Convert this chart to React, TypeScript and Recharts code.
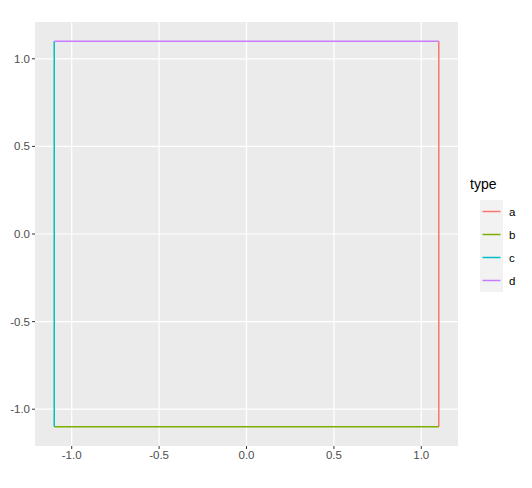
import { LineChart, Line, XAxis, YAxis, CartesianGrid } from 'recharts'

const types = ['a', 'b', 'c', 'd']
const colors = ['#F8766D', '#7CAE00', '#00BFC4', '#C77CFF']

// each side of the square, two end points
const sideA = [{ x: 1.1, y: -1.1 }, { x: 1.1, y: 1.1 }]
const sideB = [{ x: -1.1, y: -1.1 }, { x: 1.1, y: -1.1 }]
const sideC = [{ x: -1.1, y: -1.1 }, { x: -1.1, y: 1.1 }]
const sideD = [{ x: -1.1, y: 1.1 }, { x: 1.1, y: 1.1 }]
const sides = [sideA, sideB, sideC, sideD]

const ticks = [-1, -0.5, 0, 0.5, 1]
const domain: [number, number] = [-1.21, 1.21]

const font = '"Liberation Sans", Arial, sans-serif'
const tickStyle = { fill: '#4D4D4D', fontSize: 11.5, fontFamily: font }

export default function App() {
  return (
    <div style={{ position: 'absolute', left: 0, top: 0, width: 532, height: 488, background: '#fff' }}>
      <LineChart width={532} height={488} margin={{ top: 22, right: 74, bottom: 0, left: 0 }}>
        <CartesianGrid
          stroke="#fff"
          strokeWidth={1.2}
          fill="#EBEBEB"
          fillOpacity={1}
          horizontalValues={ticks}
          verticalValues={ticks}
        />
        <XAxis
          type="number"
          dataKey="x"
          domain={domain}
          ticks={ticks}
          tickFormatter={(v: number) => v.toFixed(1)}
          axisLine={false}
          tickLine={{ stroke: '#333' }}
          tickSize={3}
          tickMargin={2}
          tick={tickStyle}
          height={42}
          allowDuplicatedCategory={false}
        />
        <YAxis
          type="number"
          dataKey="y"
          domain={domain}
          ticks={ticks}
          tickFormatter={(v: number) => v.toFixed(1)}
          axisLine={false}
          tickLine={{ stroke: '#333' }}
          tickSize={3}
          tickMargin={2}
          tick={tickStyle}
          width={35}
        />
        {sides.map((d, i) => (
          <Line
            key={types[i]}
            data={d}
            dataKey="y"
            stroke={colors[i]}
            strokeWidth={1.5}
            dot={false}
            activeDot={false}
            isAnimationActive={false}
          />
        ))}
      </LineChart>
      <div style={{ position: 'absolute', left: 470, top: 176, fontFamily: font }}>
        <div style={{ fontSize: 14, color: '#000', marginBottom: 8 }}>type</div>
        {types.map((t, i) => (
          <div key={t} style={{ display: 'flex', alignItems: 'center', height: 23 }}>
            <svg width={23} height={23} style={{ marginLeft: 10, display: 'block' }}>
              <rect x={0} y={0} width={23} height={23} fill="#F2F2F2" />
              <line x1={2.5} x2={20.5} y1={11.5} y2={11.5} stroke={colors[i]} strokeWidth={1.5} />
            </svg>
            <span style={{ fontSize: 11.5, color: '#000', marginLeft: 6 }}>{t}</span>
          </div>
        ))}
      </div>
    </div>
  )
}
